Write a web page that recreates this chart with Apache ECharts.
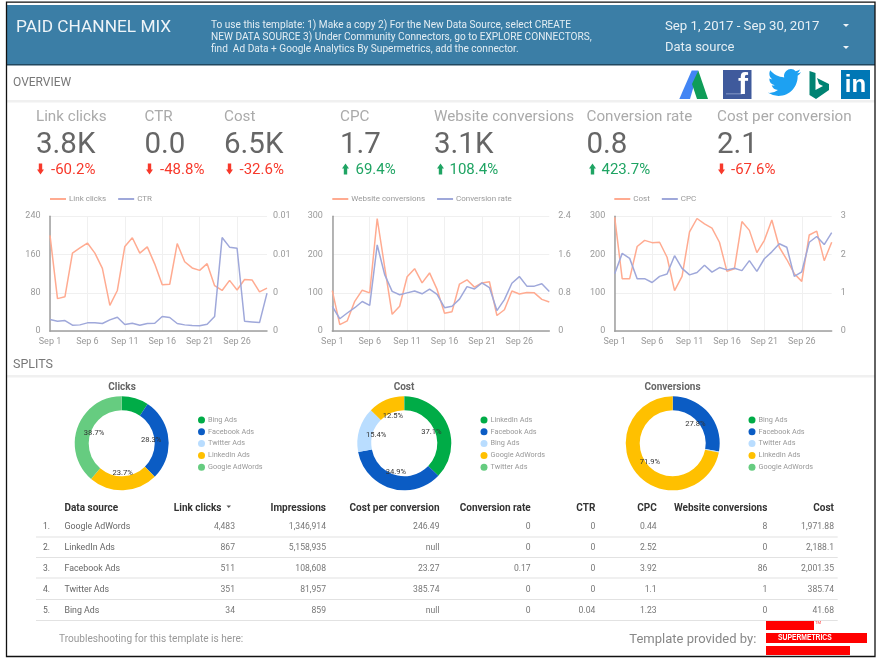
<!DOCTYPE html>
<html><head><meta charset="utf-8">
<script src="https://cdn.jsdelivr.net/npm/echarts@6/dist/echarts.min.js"></script>
<style>html,body{margin:0;padding:0;background:#fff}#c{width:881px;height:662px}</style>
</head><body><div id="c"></div>
<script>
const days = ['Sep 1','Sep 2','Sep 3','Sep 4','Sep 5','Sep 6','Sep 7','Sep 8','Sep 9','Sep 10','Sep 11','Sep 12','Sep 13','Sep 14','Sep 15','Sep 16','Sep 17','Sep 18','Sep 19','Sep 20','Sep 21','Sep 22','Sep 23','Sep 24','Sep 25','Sep 26','Sep 27','Sep 28','Sep 29','Sep 30'];
const linkClicks = [200,68,72,163,174,184,163,131,54,85,177,195,163,176,140,97,98,183,145,132,127,141,95,85,106,86,108,107,82,90];
const ctr = [0.00122,0.00104,0.00111,0.00063,0.00066,0.00087,0.00087,0.0008,0.00118,0.00146,0.0007,0.00083,0.00063,0.0008,0.00083,0.00153,0.00143,0.0008,0.00066,0.00059,0.00056,0.00073,0.00153,0.00977,0.00877,0.00866,0.00104,0.00097,0.0009,0.00397];
const websiteConversions = [106,17,27,78,107,100,294,167,44,65,142,163,126,152,109,47,51,123,134,115,126,129,41,56,105,97,101,100,83,76];
const conversionRate = [0.52,0.26,0.38,0.49,0.62,0.54,1.80,1.18,0.83,0.76,0.80,0.84,0.78,0.88,0.77,0.49,0.52,0.67,0.93,0.88,1.01,0.91,0.43,0.66,1.00,1.14,0.94,0.94,0.99,0.83];
const costDaily = [297,137,137,221,237,231,232,193,106,143,259,294,280,269,232,156,163,286,263,205,237,290,219,187,150,130,251,261,184,232];
const cpcDaily = [1.50,2.03,1.90,1.37,1.37,1.27,1.43,1.49,1.97,1.64,1.47,1.53,1.72,1.54,1.66,1.60,1.64,1.58,1.84,1.56,1.89,2.07,2.28,2.19,1.43,1.55,2.32,2.47,2.26,2.57];

const clicksNames = ['Bing Ads','Facebook Ads','Twitter Ads','LinkedIn Ads','Google AdWords'];
const clicksShare = [9.3,28.3,0,23.7,38.7];
const costNames = ['LinkedIn Ads','Facebook Ads','Bing Ads','Google AdWords','Twitter Ads'];
const costShare = [37.1,34.9,15.4,12.5,0.1];
const convNames = ['Bing Ads','Facebook Ads','Twitter Ads','LinkedIn Ads','Google AdWords'];
const convShare = [0,27.8,0.3,71.9,0];

const kpiLabels = ['Link clicks','CTR','Cost','CPC','Website conversions','Conversion rate','Cost per conversion'];
const kpiValues = ['3.8K','0.0','6.5K','1.7','3.1K','0.8','2.1'];
const kpiDeltas = ['-60.2%','-48.8%','-32.6%','69.4%','108.4%','423.7%','-67.6%'];
const kpiGood = [false,false,false,true,true,true,false];

const tableHeaders = ['Data source','Link clicks','Impressions','Cost per conversion','Conversion rate','CTR','CPC','Website conversions','Cost'];
const tSource = ['Google AdWords','LinkedIn Ads','Facebook Ads','Twitter Ads','Bing Ads'];
const tClicks = ['4,483','867','511','351','34'];
const tImpr = ['1,346,914','5,158,935','108,608','81,957','859'];
const tCpConv = ['246.49','null','23.27','385.74','null'];
const tRate = ['0','0','0.17','0','0'];
const tCtr = ['0','0','0','0','0.04'];
const tCpc = ['0.44','2.52','3.92','1.1','1.23'];
const tConv = ['8','0','86','1','0'];
const tCost = ['1,971.88','2,188.1','2,001.35','385.74','41.68'];

const FONT = 'Roboto';
const SALMON = '#ffab91', INDIGO = '#9fa8da';
const PALETTE = ['#00ac47','#0b5cc4','#b9ddff','#ffc000','#66cc80'];
const G = [];
const rect = (x,y,w,h,fill,z) => G.push({type:'rect',z:z||0,silent:true,shape:{x,y,width:w,height:h},style:{fill}});
const text = (x,y,t,size,fill,o) => G.push({type:'text',z:3,silent:true,x,y:y+1,style:Object.assign({text:t,fontFamily:FONT,fontSize:size,fill,verticalAlign:'middle',align:'left'},o||{})});
const poly = (pts,fill) => G.push({type:'polygon',z:3,silent:true,shape:{points:pts},style:{fill}});

// page chrome
rect(6.5,2,869,655,'#fff');
G.push({type:'rect',z:5,silent:true,shape:{x:6.5,y:2.2,width:868.5,height:654.3},style:{fill:'none',stroke:'#111',lineWidth:1.3}});
rect(7,5,868,60,'#3b7ea6');
rect(7,64,868,1.6,'#21475f');
rect(7,100,868,2.4,'#f0f0f0');
rect(7,375,868,2.4,'#f0f0f0');

text(16,26.5,'PAID CHANNEL MIX',17.3,'#eef4f8');
['To use this template: 1) Make a copy 2) For the New Data Source, select CREATE',
 'NEW DATA SOURCE 3) Under Community Connectors, go to EXPLORE CONNECTORS,',
 'find  Ad Data + Google Analytics By Supermetrics, add the connector.'].forEach((t,i)=>text(211,24+12*i,t,10.1,'#e3edf3'));
text(665,25.5,'Sep 1, 2017 - Sep 30, 2017',13.2,'#e8f0f5');
text(665,47,'Data source',13,'#e3edf3');
poly([[843,24],[849,24],[846,27]],'#eef4f8');
poly([[843,46],[849,46],[846,49]],'#eef4f8');

text(13,82,'OVERVIEW',12,'#777');
text(13,364,'SPLITS',12.5,'#777');

// logos
poly([[679.3,99],[691.7,70.5],[698.3,70.5],[690,99]],'#4285f4');
poly([[698.3,70.5],[708,99],[697,99],[692,84]],'#0f9d58');
rect(723,70,28.5,29,'#3f5a9c',3);
rect(726,93,16,1.5,'#6d83b8',3);
text(743,85,'f',30,'#fff',{align:'center',fontWeight:'bold',fontFamily:'Liberation Sans'});
echarts.graphic.registerShape('birdLogo', echarts.graphic.extendPath('M23.953 4.57a10 10 0 0 1 -2.825 .775 4.958 4.958 0 0 0 2.163 -2.723c-.951 .555 -2.005 .959 -3.127 1.184a4.92 4.92 0 0 0 -8.384 4.482C7.69 8.095 4.067 6.13 1.64 3.162a4.822 4.822 0 0 0 -.666 2.475c0 1.71 .87 3.213 2.188 4.096a4.904 4.904 0 0 1 -2.228 -.616v.06a4.923 4.923 0 0 0 3.946 4.827 4.996 4.996 0 0 1 -2.212 .085 4.936 4.936 0 0 0 4.604 3.417 9.867 9.867 0 0 1 -6.102 2.105c-.39 0 -.779 -.023 -1.17 -.067a13.995 13.995 0 0 0 7.557 2.209c9.053 0 13.998 -7.496 13.998 -13.985 0 -.21 0 -.42 -.015 -.63A9.935 9.935 0 0 0 24 4.59z',{}));
G.push({type:'birdLogo',z:3,silent:true,x:768,y:66,scaleX:33/24,scaleY:33/24,style:{fill:'#1da1f2'}});
poly([[809.5,71],[815.5,73],[815.5,90],[823,86],[819,84],[817,78],[829,84],[829,90],[816,99],[809.5,95]],'#008373');
rect(841,70,29,29,'#0077b5',3);
text(855.5,84.5,'in',24,'#fff',{align:'center',fontWeight:'bold',fontFamily:'Liberation Sans'});

// KPI scorecards
const kpiX = [36,144.5,224,340,434,586.5,717];
const arrowX = [37,146,226,342,437,589,718];
const deltaX = [51,160,239.5,355.5,449.5,601.5,731];
kpiLabels.forEach((l,i)=>{
  text(kpiX[i],116,l,15.2,'#aaa');
  text(kpiX[i],144.5,kpiValues[i],29.5,'#666');
  const col = kpiGood[i] ? '#1fa463' : '#f7392b';
  text(deltaX[i],169.5,kpiDeltas[i],15,col);
  const a = arrowX[i];
  if (kpiGood[i]) poly([[a+3.5,163.5],[a+7,168.5],[a+5.2,168.5],[a+5.2,174.5],[a+1.8,174.5],[a+1.8,168.5],[a,168.5]],col);
  else poly([[a+1.8,163.5],[a+5.2,163.5],[a+5.2,169.5],[a+7,169.5],[a+3.5,174.5],[a,169.5],[a+1.8,169.5]],col);
});

// donut titles
text(122,386.5,'Clicks',10,'#666',{align:'center',fontWeight:'bold'});
text(404,386.5,'Cost',10,'#666',{align:'center',fontWeight:'bold'});
text(672.5,386.5,'Conversions',10,'#666',{align:'center',fontWeight:'bold'});

// table
const colRight = [235,326,439.5,530.7,595.3,656.7,767.3,834];
const colData = [tClicks,tImpr,tCpConv,tRate,tCtr,tCpc,tConv,tCost];
const rowY = [526,546.5,567.5,588.5,609.5];
const lineY = [537,557.5,578,599.5,620.5];
text(64.5,507,tableHeaders[0],10,'#333',{fontWeight:'bold'});
tableHeaders.slice(1).forEach((h,i)=>{
  text(i===0?221.5:colRight[i],507,h,10,'#333',{align:'right',fontWeight:'bold'});
});
poly([[226.5,505.5],[231,505.5],[228.75,508]],'#555');
rowY.forEach((y,r)=>{
  text(43,y,(r+1)+'.',8.5,'#666');
  text(64.5,y,tSource[r],8.8,'#666');
  colData.forEach((c,k)=>text(colRight[k],y,c[r],8.6,'#777',{align:'right'}));
  rect(36,lineY[r]-0.6,801.7,1.2,'#e2e2e2');
});

// footer
text(59,638.5,'Troubleshooting for this template is here:',10.1,'#999');
text(629.3,638.5,'Template provided by:',13,'#888');
rect(766,621,48,9,'#ff0000',3);
rect(766,633,101,10,'#ff0000',3);
rect(766,646,84,9,'#ff0000',3);
G.push({type:'text',z:4,silent:true,x:778,y:638,scaleX:0.75,style:{text:'SUPERMETRICS',fontFamily:'Liberation Sans',fontWeight:'bold',fontSize:9,fill:'#fff',verticalAlign:'middle'}});
text(815,621.5,'TM',4,'#f33');

// charts
const grids = [{l:50,r:881-267},{l:332.3,r:881-549.3},{l:614.7,r:881-831.7}];
const axisText = {color:'#999',fontFamily:FONT,fontSize:9};
const leftMax = [240,300,300], leftInt = [80,100,100];
const rightMax = [0.012,2.4,3], rightInt = [0.004,0.8,1];
const rightMargin = [6,9,9];
const pairs = [[linkClicks,ctr,'Link clicks','CTR'],[websiteConversions,conversionRate,'Website conversions','Conversion rate'],[costDaily,cpcDaily,'Cost','CPC']];
const legendLeft = [50,332.3,614.3];

const option = {animation:false,backgroundColor:'#fff',textStyle:{fontFamily:FONT},
  graphic:{elements:G},grid:[],xAxis:[],yAxis:[],series:[],legend:[]};
grids.forEach((g,i)=>{
  option.grid.push({left:g.l,right:g.r,top:216.2,height:115,containLabel:false});
  option.xAxis.push({type:'category',gridIndex:i,data:days,boundaryGap:false,
    axisTick:{show:false},axisLine:{lineStyle:{color:'#9e9e9e',width:1.5}},
    axisLabel:Object.assign({interval:4,margin:6},axisText),
    splitLine:{show:true,interval:4,lineStyle:{color:'#f0f0f0',width:1}}});
  option.yAxis.push({type:'value',gridIndex:i,position:'left',min:0,max:leftMax[i],interval:leftInt[i],
    axisTick:{show:false},axisLine:{show:true,lineStyle:{color:'#9e9e9e',width:1.5}},
    axisLabel:Object.assign({margin:9.5},axisText),splitLine:{lineStyle:{color:'#f0f0f0',width:1}}});
  option.yAxis.push({type:'value',gridIndex:i,position:'right',min:0,max:rightMax[i],interval:rightInt[i],
    axisTick:{show:false},axisLine:{show:false},splitLine:{show:false},
    axisLabel:Object.assign({margin:rightMargin[i],formatter:v=>String(+v.toFixed(i===0?2:1))},axisText)});
  const p = pairs[i];
  option.series.push({type:'line',name:p[2],xAxisIndex:i,yAxisIndex:i*2,data:p[0],showSymbol:false,lineStyle:{color:SALMON,width:1.5},itemStyle:{color:SALMON}});
  option.series.push({type:'line',name:p[3],xAxisIndex:i,yAxisIndex:i*2+1,data:p[1],showSymbol:false,lineStyle:{color:INDIGO,width:1.5},itemStyle:{color:INDIGO}});
  option.legend.push({left:legendLeft[i],top:195,icon:'rect',itemWidth:16,itemHeight:2,itemGap:12,padding:0,
    data:[p[2],p[3]],selectedMode:false,textStyle:{color:'#999',fontFamily:FONT,fontSize:8,padding:[0,0,0,-2]}});
});
const pies = [[clicksNames,clicksShare,121.7,198],[costNames,costShare,404.3,480.5],[convNames,convShare,672.7,748.5]];
pies.forEach(pi=>{
  const data = pi[0].map((n,k)=>({name:n,value:pi[1][k],itemStyle:{color:PALETTE[k]}}));
  option.series.push({type:'pie',center:[pi[2],443.3],radius:[33,47],startAngle:90,silent:true,label:{show:false},labelLine:{show:false},data});
  option.series.push({type:'pie',z:4,center:[pi[2],443.3],radius:[18,35],startAngle:90,silent:true,
    label:{show:true,position:'inside',fontFamily:FONT,fontSize:7.6,color:'#333',formatter:q=>q.value>=10?q.value+'%':''},labelLine:{show:false},
    itemStyle:{color:'rgba(0,0,0,0)'},data:pi[0].map((n,k)=>({name:n,value:pi[1][k]}))});
  option.legend.push({orient:'vertical',left:pi[3],top:416.5,icon:'circle',itemWidth:7,itemHeight:7,itemGap:4.8,padding:0,selectedMode:false,
    data:pi[0].map((n,k)=>({name:n,itemStyle:{color:PALETTE[k]}})),
    textStyle:{color:'#999',fontFamily:FONT,fontSize:7.3,padding:[0,0,0,-2]}});
});
echarts.init(document.getElementById('c'),null,{renderer:'canvas'}).setOption(option);
</script></body></html>
